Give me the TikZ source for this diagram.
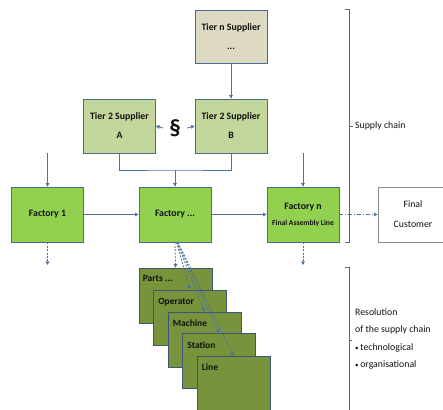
\documentclass[tikz,border=0pt]{standalone}
\usepackage{fontspec}
\setmainfont{Carlito}
\usetikzlibrary{arrows.meta,calc}

\definecolor{tiernfill}{HTML}{DDD9C3}
\definecolor{tiertwofill}{HTML}{C3D69B}
\definecolor{factfill}{HTML}{92D050}
\definecolor{stackfill}{HTML}{77933C}
\definecolor{edgecol}{HTML}{4B6B90}
\definecolor{linkcol}{HTML}{4A72A2}
\definecolor{custedge}{HTML}{8C8C8C}
\definecolor{txtcol}{HTML}{111111}

\tikzset{
  box/.style={draw=edgecol, line width=0.8pt, rectangle, inner sep=0pt,
    minimum width=72pt, minimum height=55pt, align=center, text=txtcol,
    font=\bfseries\fontsize{9.8}{19}\selectfont},
  tierbox/.style={box, fill=tiernfill, minimum height=53pt},
  tiertwobox/.style={box, fill=tiertwofill, minimum height=54pt},
  factbox/.style={box, fill=factfill},
  layerbox/.style={draw=edgecol!80!black, line width=0.8pt, fill=stackfill,
    rectangle, inner sep=0pt, minimum width=73pt, minimum height=55pt},
  layerlabel/.style={anchor=base west, inner sep=0pt, text=txtcol,
    font=\bfseries\fontsize{9.5}{11}\selectfont},
  custbox/.style={draw=custedge, line width=0.8pt, fill=white, rectangle,
    inner sep=0pt, minimum width=70pt, minimum height=55pt, align=center,
    text=txtcol, font=\fontsize{9.8}{20}\selectfont},
  link/.style={draw=linkcol, line width=0.8pt,
    -{Triangle[length=3.6pt,width=3.6pt]}},
  plainlink/.style={draw=linkcol, line width=0.8pt},
  dashlink/.style={link, dash pattern=on 2pt off 1.4pt},
  dashdotlink/.style={link, dash pattern=on 4pt off 2pt on 1pt off 2pt},
  brace/.style={draw=edgecol, line width=0.7pt},
  note/.style={anchor=west, inner sep=0pt, text=txtcol,
    font=\fontsize{9.8}{11}\selectfont}
}

\begin{document}
\begin{tikzpicture}[x=1pt,y=-1pt]
\useasboundingbox (0,0) rectangle (443,409);
\begin{scope}
\clip (0,0) rectangle (443,409);

% suppliers
\node[tierbox] (tiern) at (231,36.5) {Tier n Supplier\\...};
\node[tiertwobox] (tierA) at (119.5,126) {Tier 2 Supplier\\A};
\node[tiertwobox] (tierB) at (231,126) {Tier 2 Supplier\\B};
\node[inner sep=0pt, minimum width=24pt, text=txtcol,
  font=\bfseries\fontsize{23}{23}\selectfont] (para) at (175,128) {§};

% factories
\node[factbox] (f1) at (47.5,214.5) {Factory 1};
\node[factbox] (f2) at (175,214.5) {Factory ...};
\node[factbox] (fn) at (303,214.5)
  {Factory n\\[-3pt]{\fontsize{7.6}{9}\selectfont Final Assembly Line}};
\node[custbox] (cust) at (413,214.5) {Final\\Customer};

% resolution layers inside a factory
\node[layerbox] (parts)    at (175.5,295.5) {};
\node[layerlabel] at ($(parts.north west)+(4,14)$) {Parts ...};
\node[layerbox] (operator) at (190,317.5) {};
\node[layerlabel] at ($(operator.north west)+(5,15)$) {Operator};
\node[layerbox] (machine)  at (204.5,339.5) {};
\node[layerlabel] at ($(machine.north west)+(5,15)$) {Machine};
\node[layerbox] (station)  at (219,361) {};
\node[layerlabel] at ($(station.north west)+(5,15)$) {Station};
\node[layerbox] (line)     at (233.5,383.5) {};
\node[layerlabel] at ($(line.north west)+(5,15)$) {Line};

% supplier links
\draw[link] (tiern.south) -- (tierB.north);
\draw[link] (para.west) -- (tierA.east);
\draw[link] (para.east) -- (tierB.west);
\draw[plainlink] (tierA.south) |- (175,170) coordinate (join) -| (tierB.south);
\draw[link] (join) -- (f2.north);
\coordinate (in1) at (47.5,153);
\coordinate (inn) at (303,153);
\draw[link] (in1) -- (f1.north);
\draw[link] (inn) -- (fn.north);

% flow along the chain
\draw[link] (f1.east) -- (f2.west);
\draw[link] (f2.east) -- (fn.west);
\draw[dashdotlink] (fn.east) -- (cust.west);

% downward resolution links
\coordinate (out1) at (47.5,265);
\coordinate (outn) at (303,265);
\draw[dashlink] (f1.south) -- (out1);
\draw[dashlink] (fn.south) -- (outn);
\draw[dashlink] (f2.south) -- (parts.north);
\draw[dashlink] ($(f2.south)+(1.5,0)$) -- (operator.north);
\draw[dashlink] ($(f2.south)+(2,0)$) -- (machine.north);
\draw[dashlink] ($(f2.south)+(2.5,0)$) -- (station.north);
\draw[dashlink] ($(f2.south)+(3,0)$) -- (line.north);

% brackets
\draw[brace] (345,9) -- (349,9) -- (349,242) -- (345,242);
\draw[brace] (349,126) -- (353,126);
\node[note] (sc) at (355,126) {Supply chain};
\draw[brace] (345,267) -- (349,267) -- (349,415);
\draw[brace] (349,340) -- (352,340);
\node[note, anchor=north west, align=left, font=\fontsize{9.8}{17.3}\selectfont]
  (res) at (355,308.5) {Resolution\\of the supply chain\\{\fontsize{7}{7}\selectfont•}\,technological\\{\fontsize{7}{7}\selectfont•}\,organisational};
\end{scope}
\end{tikzpicture}
\end{document}
